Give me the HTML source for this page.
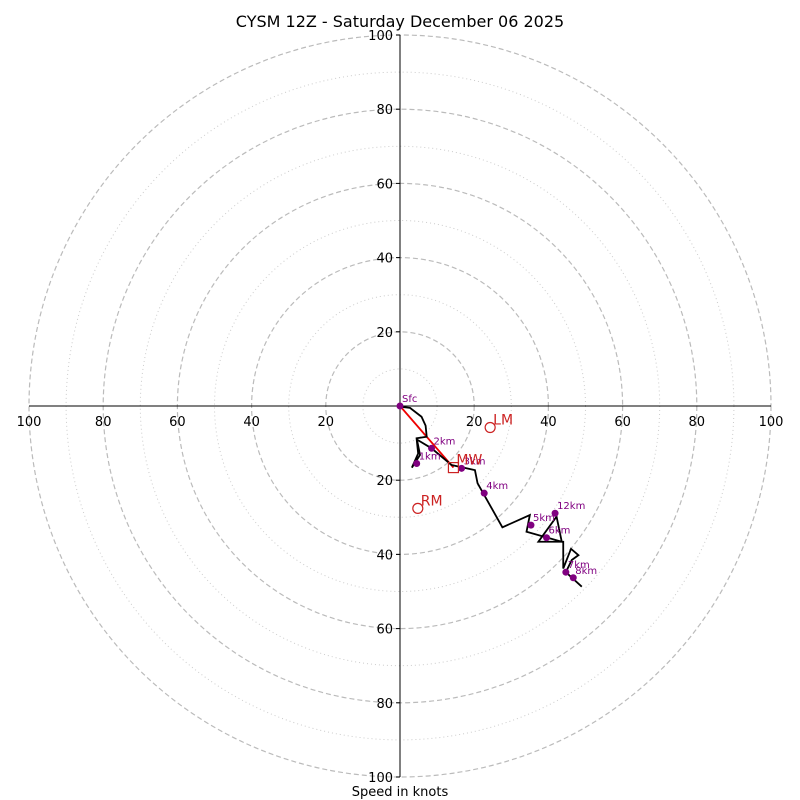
<!DOCTYPE html>
<html><head><meta charset="utf-8"><style>
body{margin:0;background:#fff}
svg{display:block;font-family:"DejaVu Sans","Liberation Sans",sans-serif}
</style></head><body>
<svg id="chart" width="800" height="800" xmlns="http://www.w3.org/2000/svg">
<rect width="800" height="800" fill="#fff"/>
<text x="400" y="27" font-size="16" text-anchor="middle">CYSM 12Z - Saturday December 06 2025</text>
<text x="400" y="796" font-size="13" text-anchor="middle">Speed in knots</text>
<g id="rings"></g><g id="axes"></g><g id="marks"></g>
</svg>
<script>
const ringValues=[10,20,30,40,50,60,70,80,90,100];
const tickLabels=[20,40,60,80,100];
const traceU=[0,2.7,5.8,6.9,7.2,4.5,5.4,3.2,4.9,4.5,8.5,13.9,20.2,20.9,27.6,35.0,34.1,43.6,42.2,37.3,43.6,44.0,44.0,46.1,48.1,46.3,44.7,49.0];
const traceV=[-0.2,-0.5,-2.9,-5.3,-8.3,-8.7,-13.2,-16.6,-12.8,-9.0,-11.4,-15.9,-17.3,-20.8,-32.7,-29.4,-33.9,-36.6,-29.8,-36.6,-36.6,-36.6,-43.8,-38.5,-40.2,-41.5,-44.8,-48.7];
const markerLabels=["Sfc","1km","2km","3km","4km","5km","6km","7km","8km","12km"];
const markerU=[0,4.5,8.5,16.6,22.7,35.3,39.5,44.7,46.7,41.8];
const markerV=[0,-15.5,-11.4,-16.8,-23.5,-32.1,-35.5,-44.8,-46.3,-28.9];
const motionLabels=["LM","RM","MW"];
const motionU=[24.3,4.8,14.4];
const motionV=[-5.8,-27.6,-16.6];
const NS="http://www.w3.org/2000/svg";
const cx=400,cy=406,sc=3.71;
const X=u=>cx+u*sc, Y=v=>cy-v*sc;
function mk(t,a,p){const e=document.createElementNS(NS,t);for(const k in a)e.setAttribute(k,a[k]);if(p)document.getElementById(p).appendChild(e);return e;}
ringValues.forEach(r=>{const major=r%20===0;
 const c=mk('circle',{cx:cx,cy:cy,r:r*sc,fill:'none',stroke:major?'#bbb':'#ccc','stroke-width':major?1.2:1,'stroke-dasharray':major?'5,3':'1,3'},'rings');
 
 });
let l=mk('line',{x1:X(-100),y1:cy,x2:X(100),y2:cy,stroke:'#000','stroke-width':1},'axes');


l=mk('line',{x1:cx,y1:Y(100),x2:cx,y2:Y(-100),stroke:'#000','stroke-width':1},'axes');


tickLabels.forEach(t=>{[1,-1].forEach(s=>{
 let tx=mk('text',{x:X(s*t),y:cy+20,'font-size':13,'text-anchor':'middle'},'axes');tx.textContent=t;
 
 
 tx=mk('text',{x:cx-7,y:Y(s*t)+5,'font-size':13,'text-anchor':'end'},'axes');tx.textContent=t;
 
 
 mk('line',{x1:cx-4,y1:Y(s*t),x2:cx,y2:Y(s*t),stroke:'#000'},'axes');
});});
l=mk('line',{x1:X(0),y1:Y(0),x2:X(motionU[2]),y2:Y(motionV[2]),stroke:'#e00','stroke-width':1.8},'marks');


const pts=traceU.map((u,i)=>X(u)+','+Y(traceV[i])).join(' ');
l=mk('polyline',{points:pts,fill:'none',stroke:'#000','stroke-width':1.8},'marks');


markerLabels.forEach((n,i)=>{
 const c=mk('circle',{cx:X(markerU[i]),cy:Y(markerV[i]),r:3.5,fill:'purple'},'marks');
 
 
 const t=mk('text',{x:X(markerU[i])+2,y:Y(markerV[i])-4,'font-size':10,fill:'purple'},'marks');t.textContent=n;
 
 
});
motionLabels.forEach((n,i)=>{
 let s;
 if(n==='MW') s=mk('rect',{x:X(motionU[i])-5,y:Y(motionV[i])-5,width:10,height:10,fill:'none',stroke:'#c22','stroke-width':1.2},'marks');
 else s=mk('circle',{cx:X(motionU[i]),cy:Y(motionV[i]),r:5,fill:'none',stroke:'#c22','stroke-width':1.2},'marks');
 
 
 const t=mk('text',{x:X(motionU[i])+3,y:Y(motionV[i])-3,'font-size':14,fill:'#c22'},'marks');t.textContent=n;
 
 
});
</script>
</body></html>
